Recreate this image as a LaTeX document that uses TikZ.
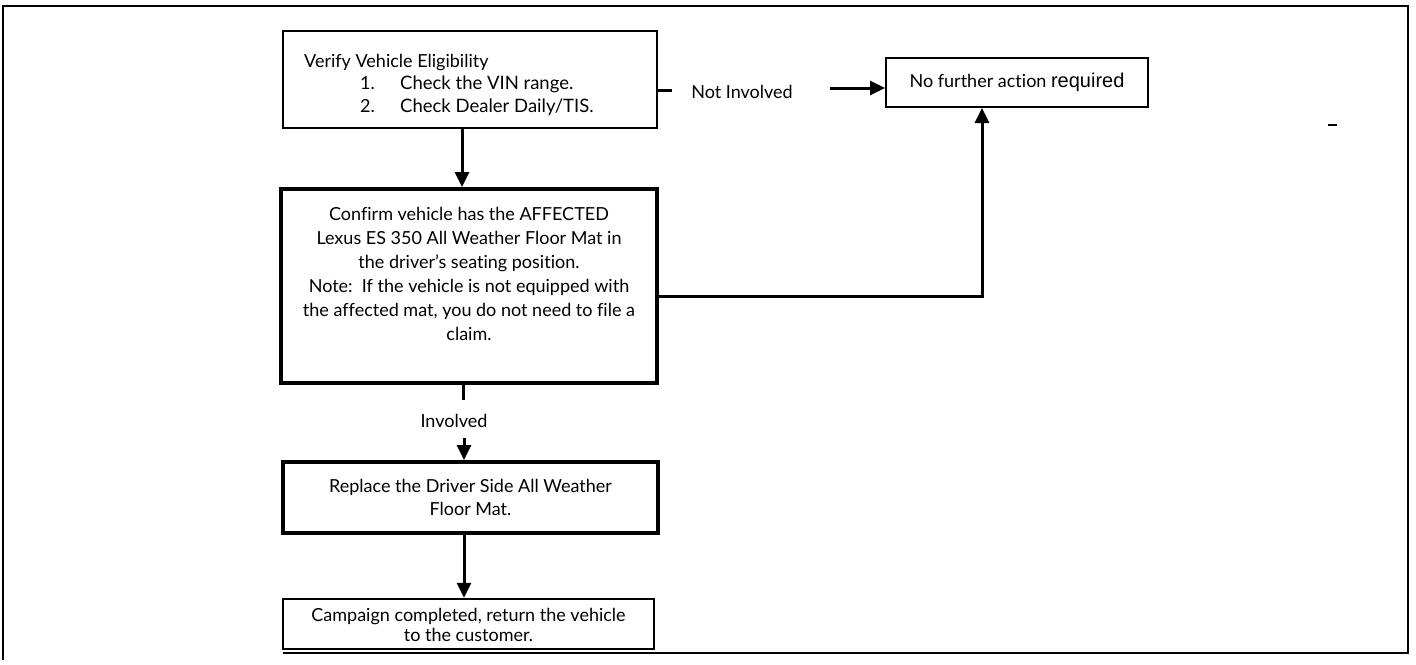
\documentclass[tikz,border=0pt]{standalone}
\usepackage{fontspec}
\setmainfont{Lato}[Ligatures={NoCommon}]
\newfontfamily\arialfont{Liberation Sans}
\usetikzlibrary{arrows.meta}
\begin{document}
\begin{tikzpicture}[x=1pt,y=-1pt,
  box/.style={draw, rectangle, inner sep=0pt, line width=2.5pt},
  txt/.style={font=\fontsize{18}{22.5}\selectfont, inner sep=0pt, align=center},
  conn/.style={line width=3pt},
  arr/.style={line width=3pt, -{Triangle[length=15pt,width=14pt]}},
]
\useasboundingbox (0,0) rectangle (1416,664);
% outer frame
\draw[line width=1.5pt] (283,653) -- (1408,653) -- (1408,6) -- (3,6) -- (3,660);
\draw[line width=1.5pt] (1328,125) -- (1337,125);

% boxes
\node[box, minimum width=374pt, minimum height=97pt] (b1) at (470,79.5) {};
\node[txt, align=left, anchor=north west] (b1t) at (304,54)
  {Verify Vehicle Eligibility\\
   \hspace*{56pt}\makebox[40pt][l]{1.}{\fontsize{18.5}{22.5}\selectfont Check the VIN range.}\\
   \hspace*{56pt}\makebox[40pt][l]{2.}{\fontsize{18.5}{22.5}\selectfont Check Dealer Daily/TIS.}};

\node[box, txt, line width=2pt, minimum width=262pt, minimum height=49pt] (b2) at (1017,82.5)
  {No further action {\arialfont\fontsize{20}{22}\selectfont required}};

\node[box, line width=4pt, minimum width=376pt, minimum height=194pt] (b3) at (469,286) {};
\node[txt, font=\fontsize{18}{24}\selectfont, anchor=north] (b3t) at (469,207)
  {Confirm vehicle has the AFFECTED\\
   Lexus ES 350 All Weather Floor Mat in\\
   the driver’s seating position.\\
   Note:\ \ If the vehicle is not equipped with\\
   the affected mat, you do not need to file a\\
   claim.};

\node[box, txt, line width=4pt, minimum width=375pt, minimum height=71pt] (b4) at (470.5,497.5)
  {Replace the Driver Side All Weather\\Floor Mat.};

\node[box, line width=2.5pt, minimum width=371pt, minimum height=50pt] (b5) at (468.5,624) {};
\node[txt, font=\fontsize{18}{20.5}\selectfont] (b5t) at (468.5,625)
  {Campaign completed, return the vehicle\\to the customer.};

% connectors
\coordinate (x1) at (462,0);
\draw[arr] (x1 |- b1.south) -- (x1 |- b3.north);

\coordinate (ni1) at (672,90);
\draw[conn] (ni1 -| b1.east) -- (ni1);
\node[txt] (ni) at (742,92) {Not Involved};
\coordinate (ni2) at (830,88);
\draw[arr] (ni2) -- (ni2 -| b2.west);

\coordinate (c1) at (982,296);
\draw[arr, line join=miter] (c1 -| b3.east) -- (c1) -- (c1 |- b2.south);

\coordinate (s1) at (463,400);
\draw[conn] (s1 |- b3.south) -- (s1);
\node[txt] (inv) at (454,421) {Involved};
\coordinate (s2) at (464,438);
\draw[arr] (s2) -- (s2 |- b4.north);

\coordinate (x2) at (464,0);
\draw[arr] (x2 |- b4.south) -- (x2 |- b5.north);
\end{tikzpicture}
\end{document}
